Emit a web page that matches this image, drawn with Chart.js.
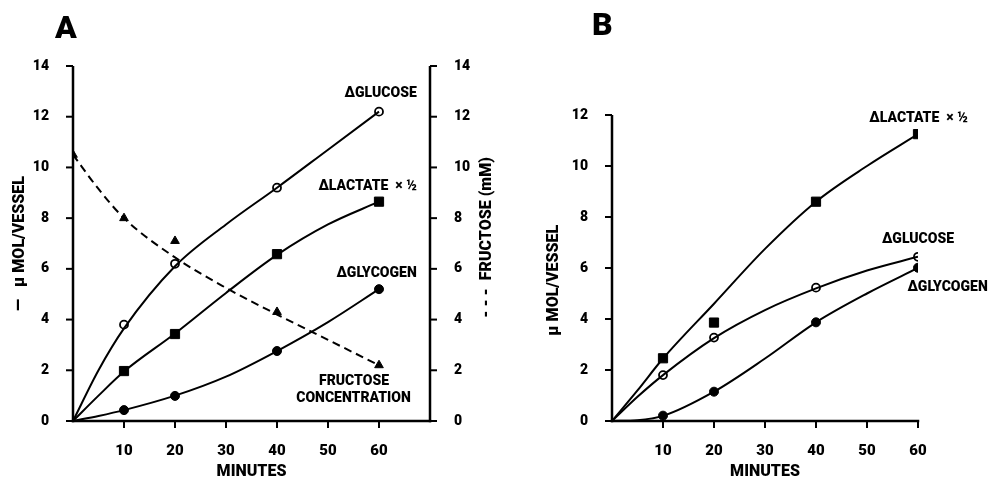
<!DOCTYPE html>
<html>
<head>
<meta charset="utf-8">
<script src="https://cdn.jsdelivr.net/npm/chart.js@4.4.1/dist/chart.umd.min.js"></script>
<style>
  html, body { margin: 0; padding: 0; background: #fff; }
  #canvasA { position: absolute; left: 0; top: 0; }
  #canvasB { position: absolute; left: 500px; top: 0; }
</style>
</head>
<body>
<canvas id="canvasA" width="500" height="482"></canvas>
<canvas id="canvasB" width="497" height="482"></canvas>
<script>
// measured points (minutes)
const minutes = [10, 20, 40, 60];
const fructoseMinutes = [0, 10, 20, 40, 60];

// Panel A
const glucoseA = [3.8, 6.2, 9.2, 12.2];
const lactateA = [1.97, 3.43, 6.58, 8.65];
const glycogenA = [0.43, 0.99, 2.76, 5.2];
const fructoseA = [10.5, 8.0, 7.1, 4.3, 2.2];

// Panel B
const lactateB = [2.46, 3.86, 8.6, 11.25];
const glucoseB = [1.8, 3.27, 5.23, 6.44];
const glycogenB = [0.21, 1.15, 3.87, 6.01];

// hand-fitted curves as drawn in the figure
const curveMinutes = [0, 5, 10, 20, 30, 40, 50, 60];
const glucoseCurveA = [0, 2.0, 3.65, 6.1, 7.75, 9.2, 10.7, 12.2];
const lactateCurveA = [0, 1.0, 1.95, 3.45, 5.05, 6.55, 7.75, 8.65];
const glycogenCurveA = [0, 0.2, 0.43, 1.0, 1.75, 2.76, 3.9, 5.2];
const fructoseCurveA = [10.5, 9.15, 8.0, 6.45, 5.25, 4.2, 3.2, 2.2];
const lactateCurveB = [0, 1.2, 2.45, 4.6, 6.75, 8.6, 10.0, 11.25];
const glucoseCurveB = [0, 0.95, 1.8, 3.25, 4.35, 5.2, 5.9, 6.44];
const glycogenCurveB = [0, 0.03, 0.2, 1.15, 2.45, 3.87, 5.0, 6.0];

// tick labels
const xTicks = [10, 20, 30, 40, 50, 60];
const yTicksA = [0, 2, 4, 6, 8, 10, 12, 14];
const yTicksB = [0, 2, 4, 6, 8, 10, 12];

// curve labels, anchored in data units
const notesA = [
  { text: '\u0394GLUCOSE', x: 67.4, y: 12.9, align: 'right' },
  { text: '\u0394LACTATE  \u00d7 \u00bd', x: 67.4, y: 9.23, align: 'right' },
  { text: '\u0394GLYCOGEN', x: 67.4, y: 5.8, align: 'right' },
  { text: 'FRUCTOSE', x: 55.1, y: 1.54, align: 'center' },
  { text: 'CONCENTRATION', x: 55.0, y: 0.87, align: 'center' }
];
const notesB = [
  { text: '\u0394LACTATE  \u00d7 \u00bd', x: 60.1, y: 11.88, align: 'center' },
  { text: '\u0394GLUCOSE', x: 60.0, y: 7.1, align: 'center' },
  { text: '\u0394GLYCOGEN', x: 65.8, y: 5.25, align: 'center' }
];

const FONT = "Roboto, 'Liberation Sans', Arial, sans-serif";
const TICK_LEN = 7;
const AXIS_W = 2.5;
Chart.defaults.font.family = FONT;
Chart.defaults.font.weight = '900';
Chart.defaults.color = '#000';

const zip = (xs, ys) => xs.map((x, i) => ({ x: x, y: ys[i] }));

function curve(xs, ys, axis, dashed) {
  return {
    data: zip(xs, ys),
    yAxisID: axis || 'y',
    showLine: true,
    borderColor: '#000',
    borderWidth: 2,
    borderDash: dashed ? [8, 5] : [],
    pointRadius: 0,
    cubicInterpolationMode: 'monotone',
    fill: false
  };
}

function marks(xs, ys, style, radius, open, axis) {
  return {
    data: zip(xs, ys),
    yAxisID: axis || 'y',
    showLine: false,
    pointStyle: style,
    pointRadius: radius,
    pointBackgroundColor: open ? '#fff' : '#000',
    pointBorderColor: '#000',
    pointBorderWidth: open ? 1.8 : 1
  };
}

function fit(size) {
  return scale => {
    if (scale.isHorizontal()) scale.height = size;
    else scale.width = size;
  };
}

function keepTicks(list) {
  return scale => {
    scale.ticks = scale.ticks.filter(t => list.includes(t.value));
  };
}

// axis lines and outward tick marks, placed from each scale's own ticks;
// drawn last, as filled bars, so nothing paints over them
const axisLines = {
  id: 'axisLines',
  afterDraw(chart) {
    const ctx = chart.ctx, a = chart.chartArea;
    const h = AXIS_W / 2;
    ctx.save();
    ctx.globalAlpha = 1;
    ctx.globalCompositeOperation = 'source-over';
    ctx.fillStyle = '#000';
    Object.values(chart.scales).forEach(s => {
      const right = s.position === 'right';
      if (s.isHorizontal()) {
        ctx.fillRect(a.left - h, a.bottom - h, a.right - a.left + AXIS_W, AXIS_W);
      } else {
        const x = right ? a.right : a.left;
        ctx.fillRect(x - h, a.top, AXIS_W, a.bottom - a.top + h);
      }
      s.ticks.forEach(t => {
        const p = s.getPixelForValue(t.value);
        if (s.isHorizontal()) ctx.fillRect(p - 1, a.bottom, 2, TICK_LEN);
        else if (right) ctx.fillRect(a.right, p - 1, TICK_LEN, 2);
        else ctx.fillRect(a.left - TICK_LEN, p - 1, TICK_LEN, 2);
      });
    });
    ctx.restore();
  }
};

// panel letter, curve labels and the right-hand axis title
function panelText(letter, lx, ly, notes, rightTitle) {
  return {
    id: 'panelText' + letter,
    afterDraw(chart) {
      const ctx = chart.ctx;
      const xs = chart.scales.x, ys = chart.scales.y;
      ctx.save();
      ctx.fillStyle = '#000';
      ctx.textAlign = 'left';
      ctx.textBaseline = 'alphabetic';
      ctx.font = '900 32px ' + FONT;
      ctx.fillText(letter, lx, ly);

      ctx.font = '900 14px ' + FONT;
      ctx.textBaseline = 'middle';
      for (const n of notes) {
        ctx.textAlign = n.align;
        ctx.fillText(n.text, xs.getPixelForValue(n.x), ys.getPixelForValue(n.y));
      }

      if (rightTitle) {
        const r = chart.scales.y2;
        ctx.translate(r.right - 13, (r.top + r.bottom) / 2 - 6);
        ctx.rotate(-Math.PI / 2);
        ctx.textAlign = 'center';
        ctx.font = '900 16px ' + FONT;
        ctx.fillText(rightTitle, 0, 0);
      }
      ctx.restore();
    }
  };
}

const noGrid = { display: false };
const noBorder = { display: false };

const figA = new Chart(document.getElementById('canvasA'), {
  type: 'scatter',
  data: {
    datasets: [
      curve(curveMinutes, glucoseCurveA),
      curve(curveMinutes, lactateCurveA),
      curve(curveMinutes, glycogenCurveA),
      curve(curveMinutes, fructoseCurveA, 'y2', true),
      marks(minutes, glucoseA, 'circle', 4, true),
      marks(minutes, lactateA, 'rect', 6.5, false),
      marks(minutes, glycogenA, 'circle', 4.5, false),
      marks(fructoseMinutes, fructoseA, 'triangle', 5, false, 'y2')
    ]
  },
  options: {
    responsive: false,
    animation: false,
    layout: { padding: { top: 66 } },
    plugins: { legend: { display: false }, tooltip: { enabled: false } },
    scales: {
      x: {
        type: 'linear', min: 0, max: 70,
        grid: noGrid, border: noBorder,
        afterFit: fit(61),
        afterBuildTicks: keepTicks(xTicks),
        ticks: { stepSize: 10, padding: 6 + TICK_LEN, font: { size: 15 } },
        title: { display: true, text: 'MINUTES', font: { size: 16 }, padding: { top: 0, bottom: 0 } }
      },
      y: {
        type: 'linear', position: 'left', min: 0, max: 14,
        grid: noGrid, border: noBorder,
        afterFit: fit(73),
        afterBuildTicks: keepTicks(yTicksA),
        ticks: { stepSize: 2, padding: 9 + TICK_LEN, font: { size: 14 } },
        title: { display: true, text: '\u2014   \u03bc MOL/VESSEL', font: { size: 16 }, padding: { top: 10, bottom: 0 } }
      },
      y2: {
        type: 'linear', position: 'right', min: 0, max: 14,
        grid: noGrid, border: noBorder,
        afterFit: fit(70),
        afterBuildTicks: keepTicks(yTicksA),
        ticks: { stepSize: 2, padding: 9 + TICK_LEN, font: { size: 14 } }
      }
    }
  },
  plugins: [axisLines, panelText('A', 55, 38, notesA, '- - -  FRUCTOSE (mM)')]
});

const figB = new Chart(document.getElementById('canvasB'), {
  type: 'scatter',
  data: {
    datasets: [
      curve(curveMinutes, lactateCurveB),
      curve(curveMinutes, glucoseCurveB),
      curve(curveMinutes, glycogenCurveB),
      marks(minutes, lactateB, 'rect', 6.5, false),
      marks(minutes, glucoseB, 'circle', 4, true),
      marks(minutes, glycogenB, 'circle', 4.5, false)
    ]
  },
  options: {
    responsive: false,
    animation: false,
    layout: { padding: { top: 115, right: 79 } },
    plugins: { legend: { display: false }, tooltip: { enabled: false } },
    scales: {
      x: {
        type: 'linear', min: 0, max: 60,
        grid: noGrid, border: noBorder,
        afterFit: fit(61),
        afterBuildTicks: keepTicks(xTicks),
        ticks: { stepSize: 10, padding: 6 + TICK_LEN, font: { size: 15 } },
        title: { display: true, text: 'MINUTES', font: { size: 16 }, padding: { top: 0, bottom: 0 } }
      },
      y: {
        type: 'linear', position: 'left', min: 0, max: 12,
        grid: noGrid, border: noBorder,
        afterFit: fit(112),
        afterBuildTicks: keepTicks(yTicksB),
        ticks: { stepSize: 2, padding: 9 + TICK_LEN, font: { size: 14 } },
        title: { display: true, text: '\u03bc MOL/VESSEL\u2002\u2002\u2002', font: { size: 16 }, padding: { top: 44, bottom: 0 } }
      }
    }
  },
  plugins: [axisLines, panelText('B', 92, 35, notesB)]
});
</script>
</body>
</html>
